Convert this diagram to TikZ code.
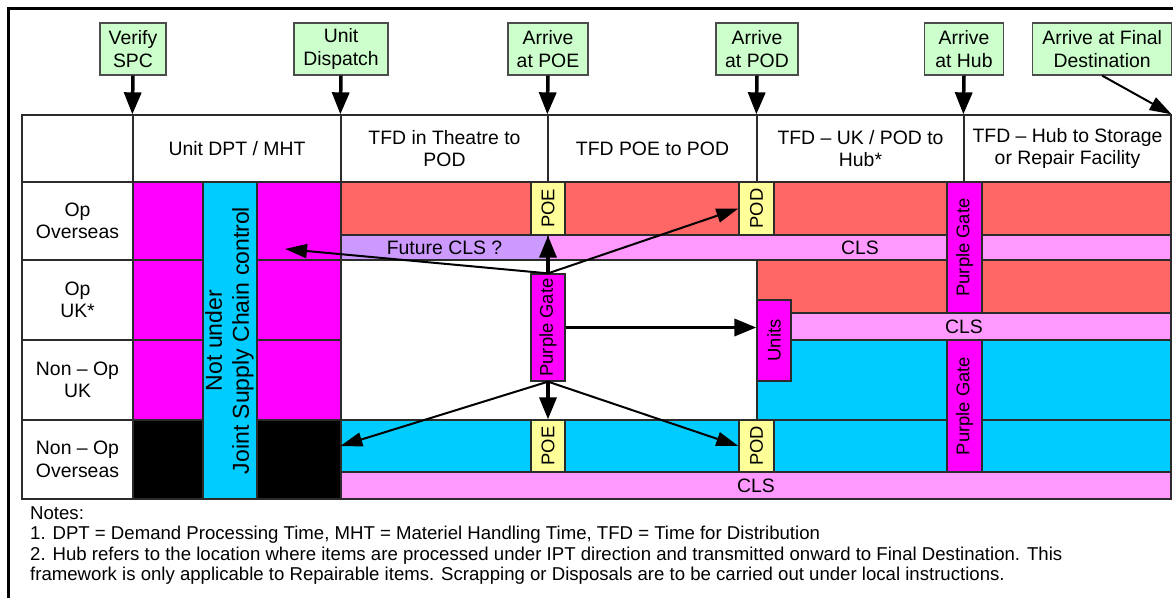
\documentclass[tikz,border=0pt]{standalone}
\usepackage{fontspec}
\setmainfont{Liberation Sans}
\usepackage{graphicx}
\usetikzlibrary{arrows.meta,positioning}
\definecolor{msgreen}{HTML}{CCFFCC}
\definecolor{gatemag}{HTML}{FF00FF}
\definecolor{jscblue}{HTML}{00CCFF}
\definecolor{opred}{HTML}{FF6666}
\definecolor{clspink}{HTML}{FF99FF}
\definecolor{futlav}{HTML}{CC99FF}
\definecolor{portyel}{HTML}{FFFF99}
\definecolor{lineink}{HTML}{2B2B2B}
\newcommand\hdrfont{\fontsize{19.4}{22.4}\selectfont}
\newcommand\tagfont{\fontsize{18.4}{21}\selectfont}
\newcommand\barfont{\fontsize{23}{27}\selectfont}
\newcommand\notefont{\fontsize{18.6}{20.6}\selectfont}
\tikzset{
  sc cell/.style={draw=lineink, line width=1.3pt, inner sep=0pt, align=center, font=\hdrfont},
  sc ms/.style={sc cell, fill=msgreen, draw=black!70, minimum height=52pt},
  sc tag/.style={sc cell, font=\tagfont},
  sc gate/.style={sc tag, fill=gatemag},
  sc port/.style={sc tag, fill=portyel},
  sc blk/.style={draw=lineink, line width=1.3pt},
  sc down/.style={-{Triangle[length=22pt,width=17pt]}, line width=3.5pt},
  sc thin/.style={-{Triangle[length=22pt,width=14pt]}, line width=2pt},
}

\begin{document}
\begin{tikzpicture}[x=1pt, y=-1pt,
  hd/.style={sc cell, minimum height=67pt},
  rl/.style={sc cell, minimum width=111pt}]
  \useasboundingbox (0,0) rectangle (1173,598);
  \draw[line width=2.6pt] (1173,8.7) -- (8.7,8.7) -- (8.7,598);
  % milestones along the top
  \node[sc ms, minimum width=66pt]  (spc)  at (133,49)    {Verify\\SPC};
  \node[sc ms, minimum width=94pt]  (disp) at (341,49)    {Unit\\Dispatch};
  \node[sc ms, minimum width=80pt]  (apoe) at (548,49)    {Arrive\\at POE};
  \node[sc ms, minimum width=82pt]  (apod) at (757,49)    {Arrive\\at POD};
  \node[sc ms, minimum width=79pt]  (ahub) at (964,49)    {Arrive\\at Hub};
  \node[sc ms, minimum width=139pt] (afin) at (1102.2,49) {Arrive at Final\\Destination};
  % header row
  \node[hd, minimum width=111pt] (corner) at (77.5,148.5)  {};
  \node[hd, minimum width=208pt] (hdpt)   at (237,148.5)   {Unit DPT / MHT};
  \node[hd, minimum width=207pt] (hthr)   at (444.5,148.5) {TFD in Theatre to\\POD};
  \node[hd, minimum width=209pt] (hpoe)   at (652.5,148.5) {TFD POE to POD};
  \node[hd, minimum width=207pt] (hhub)   at (860.5,148.5) {TFD -- UK / POD to\\Hub*};
  \node[hd, minimum width=207pt] (hrep)   at (1067.5,148.5) {TFD -- Hub to Storage\\or Repair Facility};
  % row labels
  \node[rl, minimum height=78pt] (rop)   at (77.5,221)   {Op\\Overseas};
  \node[rl, minimum height=80pt] (ropuk) at (77.5,300)   {Op\\UK*};
  \node[rl, minimum height=80pt] (rnuk)  at (77.5,380)   {Non -- Op\\UK};
  \node[rl, minimum height=79pt] (rnov)  at (77.5,459.5) {Non -- Op\\Overseas};
  % unit DPT / MHT column
  \foreach \ya/\yb/\c in {182/260/gatemag, 260/340/gatemag, 340/420/gatemag, 420/499/black}
    \filldraw[sc blk, fill=\c] (133,\ya) rectangle (203,\yb) (257,\ya) rectangle (341,\yb);
  \node[sc cell, fill=jscblue, font=\barfont, minimum width=54pt, minimum height=317pt] (jsc) at (230,340.5)
    {\rotatebox{90}{\begin{tabular}{@{}c@{}}Not under\\Joint Supply Chain control\end{tabular}}};
  % row 1: operational overseas
  \foreach \xa/\xb in {341/531, 565/739, 774/947, 982/1171}
    \filldraw[sc blk, fill=opred] (\xa,182) rectangle (\xb,235);
  \filldraw[sc blk, fill=clspink] (548,235) rectangle (947,260) (982,235) rectangle (1171,260);
  \node[sc cell, fill=futlav, minimum width=207pt, minimum height=25pt] (fut) at (444.5,247.5) {Future CLS ?};
  \node[font=\hdrfont, inner sep=0pt] (cls1) at (860,247.5) {CLS};
  % rows 2 and 3: UK
  \foreach \xa/\xb in {757/947, 982/1171} {
    \filldraw[sc blk, fill=opred] (\xa,260) rectangle (\xb,313);
    \filldraw[sc blk, fill=jscblue] (\xa,340) rectangle (\xb,420);
  }
  \filldraw[sc blk, fill=clspink] (791,313) rectangle (1171,340);
  \node[font=\hdrfont, inner sep=0pt] (cls2) at (964,327) {CLS};
  \node[sc gate, minimum width=34pt, minimum height=81pt] (units) at (774,340.5) {\rotatebox{90}{Units}};
  \node[sc gate, minimum width=35pt, minimum height=131pt] (gatea) at (964.5,247.5) {\rotatebox{90}{Purple Gate}};
  \node[sc gate, minimum width=35pt, minimum height=132pt] (gateb) at (964.5,406) {\rotatebox{90}{Purple Gate}};
  % row 4: non-operational overseas
  \node[sc cell, fill=jscblue, minimum width=190pt, minimum height=52pt] (thr4) at (436,446) {};
  \foreach \xa/\xb in {565/739, 774/947, 982/1171}
    \filldraw[sc blk, fill=jscblue] (\xa,420) rectangle (\xb,472);
  \node[sc cell, fill=clspink, minimum width=830pt, minimum height=27pt] (cls3) at (756,485.5) {CLS};
  % ports
  \node[sc port, minimum width=34pt, minimum height=53pt] (poe1) at (548,208.5)   {\rotatebox{90}{POE}};
  \node[sc port, minimum width=35pt, minimum height=53pt] (pod1) at (756.5,208.5) {\rotatebox{90}{POD}};
  \node[sc port, minimum width=34pt, minimum height=52pt] (poe2) at (548,446)     {\rotatebox{90}{POE}};
  \node[sc port, minimum width=35pt, minimum height=52pt] (pod2) at (756.5,446)   {\rotatebox{90}{POD}};
  \node[sc gate, minimum width=34pt, minimum height=107pt] (pg) at (548,327.5) {\rotatebox{90}{Purple Gate}};
  \draw[sc blk] (22,115) rectangle (1171,499);
  % notes
  \node[anchor=north west, align=left, inner sep=0pt, font=\notefont] (notes) at (30,506)
    {Notes:\\
     1. DPT = Demand Processing Time, MHT = Materiel Handling Time, TFD = Time for Distribution\\
     2. Hub refers to the location where items are processed under IPT direction and transmitted onward to Final Destination. This\\
     framework is only applicable to Repairable items. Scrapping or Disposals are to be carried out under local instructions.};
  % milestone arrows
  \foreach \a/\b in {spc/hdpt, disp/hthr, apoe/hpoe, apod/hhub, ahub/hrep}
    \draw[sc down] (\a.south) -- (\b.north west);
  \draw[sc thin] (afin.south) -- (hrep.north east);
  % flows out of the purple gate
  \coordinate (dptmht) at (285,249);
  \draw[sc down] (pg.north) -- (poe1.south);
  \draw[sc down] (pg.south) -- (poe2.north);
  \draw[sc down] (pg.east) -- (pg.east -| units.west);
  \draw[sc thin] (pg.north) -- (dptmht);
  \draw[sc thin] (pg.north) -- (pod1.west);
  \draw[sc thin] (pg.south) -- (thr4.west);
  \draw[sc thin] (pg.south) -- (pod2.west);
\end{tikzpicture}
\end{document}
